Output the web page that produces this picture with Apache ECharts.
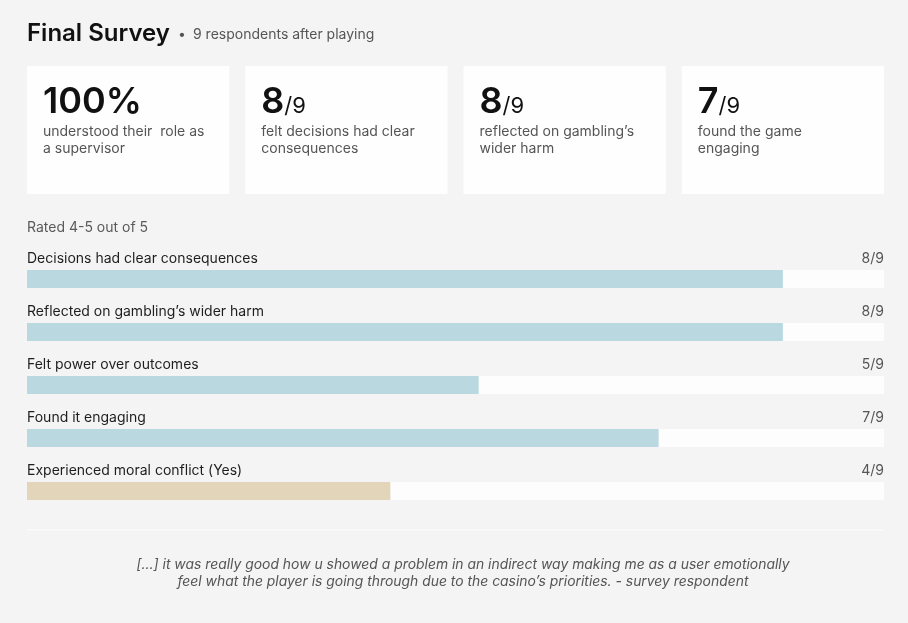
<!DOCTYPE html>
<html lang="en">
<head>
  <meta charset="UTF-8">
  <title>Final Survey</title>
  <style>
    html, body { margin: 0; padding: 0; background: #f4f4f4; }
    #main { width: 908px; height: 623px; }
  </style>
</head>
<body>
  <div id="main"></div>
<script src="https://cdn.jsdelivr.net/npm/echarts/dist/echarts.min.js"></script>
<script>
  // survey data
  var totalRespondents = 9;

  var cardValues = ['100%', '8', '8', '7'];
  var cardOutOf = [null, 9, 9, 9];
  var cardTexts = [
    'understood their  role as\na supervisor',
    'felt decisions had clear\nconsequences',
    'reflected on gambling\u2019s\nwider harm',
    'found the game\nengaging'
  ];

  var categories = [
    'Decisions had clear consequences',
    'Reflected on gambling\u2019s wider harm',
    'Felt power over outcomes',
    'Found it engaging',
    'Experienced moral conflict (Yes)'
  ];
  var counts = [8, 8, 5, 7, 4];
  // bar length as drawn, percent of track
  var barPercent = [88.2, 88.2, 52.7, 73.7, 42.4];
  var questionType = ['rating', 'rating', 'rating', 'rating', 'yesno'];

  var quoteLines = [
    '[...] it was really good how u showed a problem in an indirect way making me as a user emotionally',
    'feel what the player is going through due to the casino\u2019s priorities. - survey respondent'
  ];

  var FONT = 'Inter, "Noto Sans", sans-serif';
  var myChart = echarts.init(document.getElementById('main'));

  // header + stat cards
  var graphics = [];
  graphics.push({
    type: 'text', left: 27, top: 22,
    style: { text: 'Final Survey', font: '600 24px ' + FONT, fill: '#111' }
  });
  graphics.push({
    type: 'text', left: 178, top: 28,
    style: { text: '\u2022', font: '14px ' + FONT, fill: '#555' }
  });
  graphics.push({
    type: 'text', left: 193, top: 28,
    style: { text: '9 respondents after playing', font: '14px ' + FONT, fill: '#555' }
  });

  var cardX = 27, cardY = 66, cardGap = 16, cardH = 128;
  var cardW = (857 - 3 * cardGap) / 4;
  cardValues.forEach(function (v, i) {
    var x = cardX + i * (cardW + cardGap);
    graphics.push({
      type: 'rect', shape: { x: x, y: cardY, width: cardW, height: cardH },
      style: { fill: '#fefefe' }, silent: true
    });
    var txt = '{n|' + v + '}' + (cardOutOf[i] ? '{d|/' + cardOutOf[i] + '}' : '');
    graphics.push({
      type: 'text', x: x + 16, y: 83,
      style: {
        text: txt,
        rich: {
          n: { fontFamily: FONT, fontSize: 36, fontWeight: 600, fill: '#111', lineHeight: 37, verticalAlign: 'bottom' },
          d: { fontFamily: FONT, fontSize: 22, fontWeight: 400, fill: '#111', lineHeight: 22, verticalAlign: 'bottom', padding: [0, 0, 3, 0] }
        }
      }
    });
    graphics.push({
      type: 'text', x: x + 16, y: 123,
      style: { text: cardTexts[i], font: '14px ' + FONT, fill: '#555', lineHeight: 17 }
    });
  });

  graphics.push({
    type: 'text', left: 27, top: 221,
    style: { text: 'Rated 4-5 out of 5', font: '14px ' + FONT, fill: '#5a5a5a' }
  });

  // divider + quote
  graphics.push({
    type: 'rect', shape: { x: 27, y: 529, width: 857, height: 1.5 },
    style: { fill: '#fafafa' }, silent: true
  });
  graphics.push({
    type: 'text', x: 463, y: 556,
    style: {
      text: quoteLines.join('\n'),
      font: 'italic 13.9px ' + FONT, fill: '#555', lineHeight: 17, align: 'center'
    }
  });

  var option = {
    backgroundColor: '#f4f4f4',
    animation: false,
    graphic: graphics,
    grid: { left: 27, right: 24, top: 252.5, height: 265 },
    xAxis: { type: 'value', min: 0, max: 100, show: false },
    yAxis: { type: 'category', data: categories, inverse: true, show: false },
    series: [
      {
        name: 'track',
        type: 'bar',
        barWidth: 18,
        barGap: '-100%',
        silent: true,
        data: categories.map(function () { return 100; }),
        itemStyle: { color: '#fdfdfd' },
        label: {
          show: true,
          position: 'insideTopRight',
          distance: 0,
          offset: [0, -18],
          fontFamily: FONT, fontSize: 14, color: '#555',
          formatter: function (p) { return counts[p.dataIndex] + '/' + totalRespondents; }
        }
      },
      {
        name: 'rated',
        type: 'bar',
        barWidth: 18,
        barGap: '-100%',
        data: barPercent.map(function (v, i) {
          return {
            value: v,
            itemStyle: { color: questionType[i] === 'yesno' ? '#e3d5b9' : '#b9d8df' }
          };
        }),
        label: {
          show: true,
          position: 'insideTopLeft',
          distance: 0,
          offset: [0, -18],
          fontFamily: FONT, fontSize: 14, color: '#1e1e1e',
          formatter: function (p) { return p.name; }
        }
      }
    ]
  };

  myChart.setOption(option);
</script>
</body>
</html>
